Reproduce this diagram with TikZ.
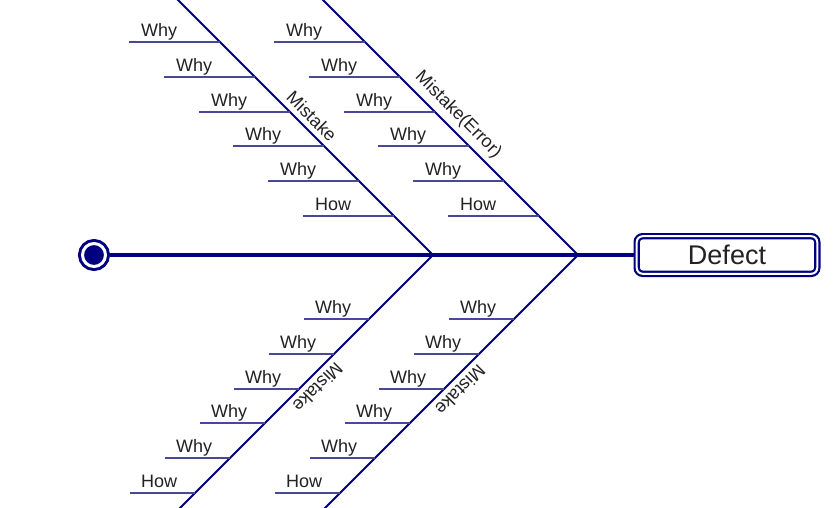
\documentclass[tikz,border=0pt]{standalone}
\usepackage{fontspec}
\setmainfont{Liberation Sans}
\usetikzlibrary{positioning}
\definecolor{fishnavy}{RGB}{0,0,128}
\definecolor{twigblue}{RGB}{72,72,150}
\definecolor{inkgray}{RGB}{34,34,34}

\begin{document}
\begin{tikzpicture}[x=1pt, y=-1pt,
    spine/.style={draw=fishnavy, line width=4.5pt},
    bone/.style={draw=fishnavy, line width=1.8pt},
    twig/.style={draw=twigblue, line width=1.1pt},
    cause/.style={anchor=base west, inner sep=0pt, font=\fontsize{18}{20}\selectfont, text=inkgray},
    bonelabel/.style={sloped, above, inner sep=5pt, font=\fontsize{18}{20}\selectfont, text=inkgray},
    headbox/.style={draw=fishnavy, line width=2.2pt, double=white, double distance=2pt, rounded corners=6pt,
        minimum width=180.6pt, minimum height=37.6pt, inner sep=0pt, outer sep=3.2pt,
        font=\fontsize{27}{30}\selectfont, text=inkgray},
    tailpt/.style={circle, draw=fishnavy, fill=fishnavy, line width=3pt, double=white, double distance=3pt,
        minimum size=23pt, inner sep=0pt, outer sep=4.5pt}
]

\useasboundingbox (0,0) rectangle (836,508);
\fill[white] (0,0) rectangle (836,508);
\clip (0,0) rectangle (836,508);

% ===== SPINE =====
\node[tailpt] (tail) at (94,255) {};
\node[headbox] (head) at (727,255) {Defect};
\draw[spine] (tail) -- (head);

% Joints of the bones on the spine
\coordinate (ja) at (433,255);
\coordinate (jb) at (578,255);
\coordinate (ja-top) at (173,-5);
\coordinate (jb-top) at (318,-5);
\coordinate (ja-bot) at (175,513);
\coordinate (jb-bot) at (320,513);

% ===== BONES =====
\draw[bone] (ja) -- (ja-top) node[bonelabel, pos=0.5] {Mistake};
\draw[bone] (jb) -- (jb-top) node[bonelabel, pos=0.5] {Mistake(Error)};
\draw[bone] (ja) -- (ja-bot) node[bonelabel, allow upside down, pos=0.48] {Mistake};
\draw[bone] (jb) -- (jb-bot) node[bonelabel, allow upside down, pos=0.49] {Mistake};

% ===== UPPER CAUSES =====
\foreach \jx/\bn in {433/a, 578/b} {
    \foreach \yy/\tx [count=\k] in {42/Why, 77/Why, 112/Why, 146/Why, 181/Why, 216/How} {
        \pgfmathsetmacro\bx{\jx-255+\yy}
        \coordinate (\bn-up\k) at (\bx,\yy);
        \coordinate (\bn-up\k-end) at (\bx-91,\yy);
        \draw[twig] (\bn-up\k-end) -- (\bn-up\k);
        \node[cause, xshift=12pt, yshift=5pt] (\bn-up\k-txt) at (\bn-up\k-end) {\tx};
    }
}

% ===== LOWER CAUSES =====
\foreach \jx/\bn in {433/a, 578/b} {
    \foreach \yy/\tx [count=\k] in {319/Why, 354/Why, 389/Why, 423/Why, 458/Why, 493/How} {
        \pgfmathsetmacro\bx{\jx+255-\yy}
        \coordinate (\bn-lo\k) at (\bx,\yy);
        \coordinate (\bn-lo\k-end) at (\bx-65,\yy);
        \draw[twig] (\bn-lo\k-end) -- (\bn-lo\k);
        \node[cause, xshift=11pt, yshift=6pt] (\bn-lo\k-txt) at (\bn-lo\k-end) {\tx};
    }
}

\end{tikzpicture}
\end{document}
